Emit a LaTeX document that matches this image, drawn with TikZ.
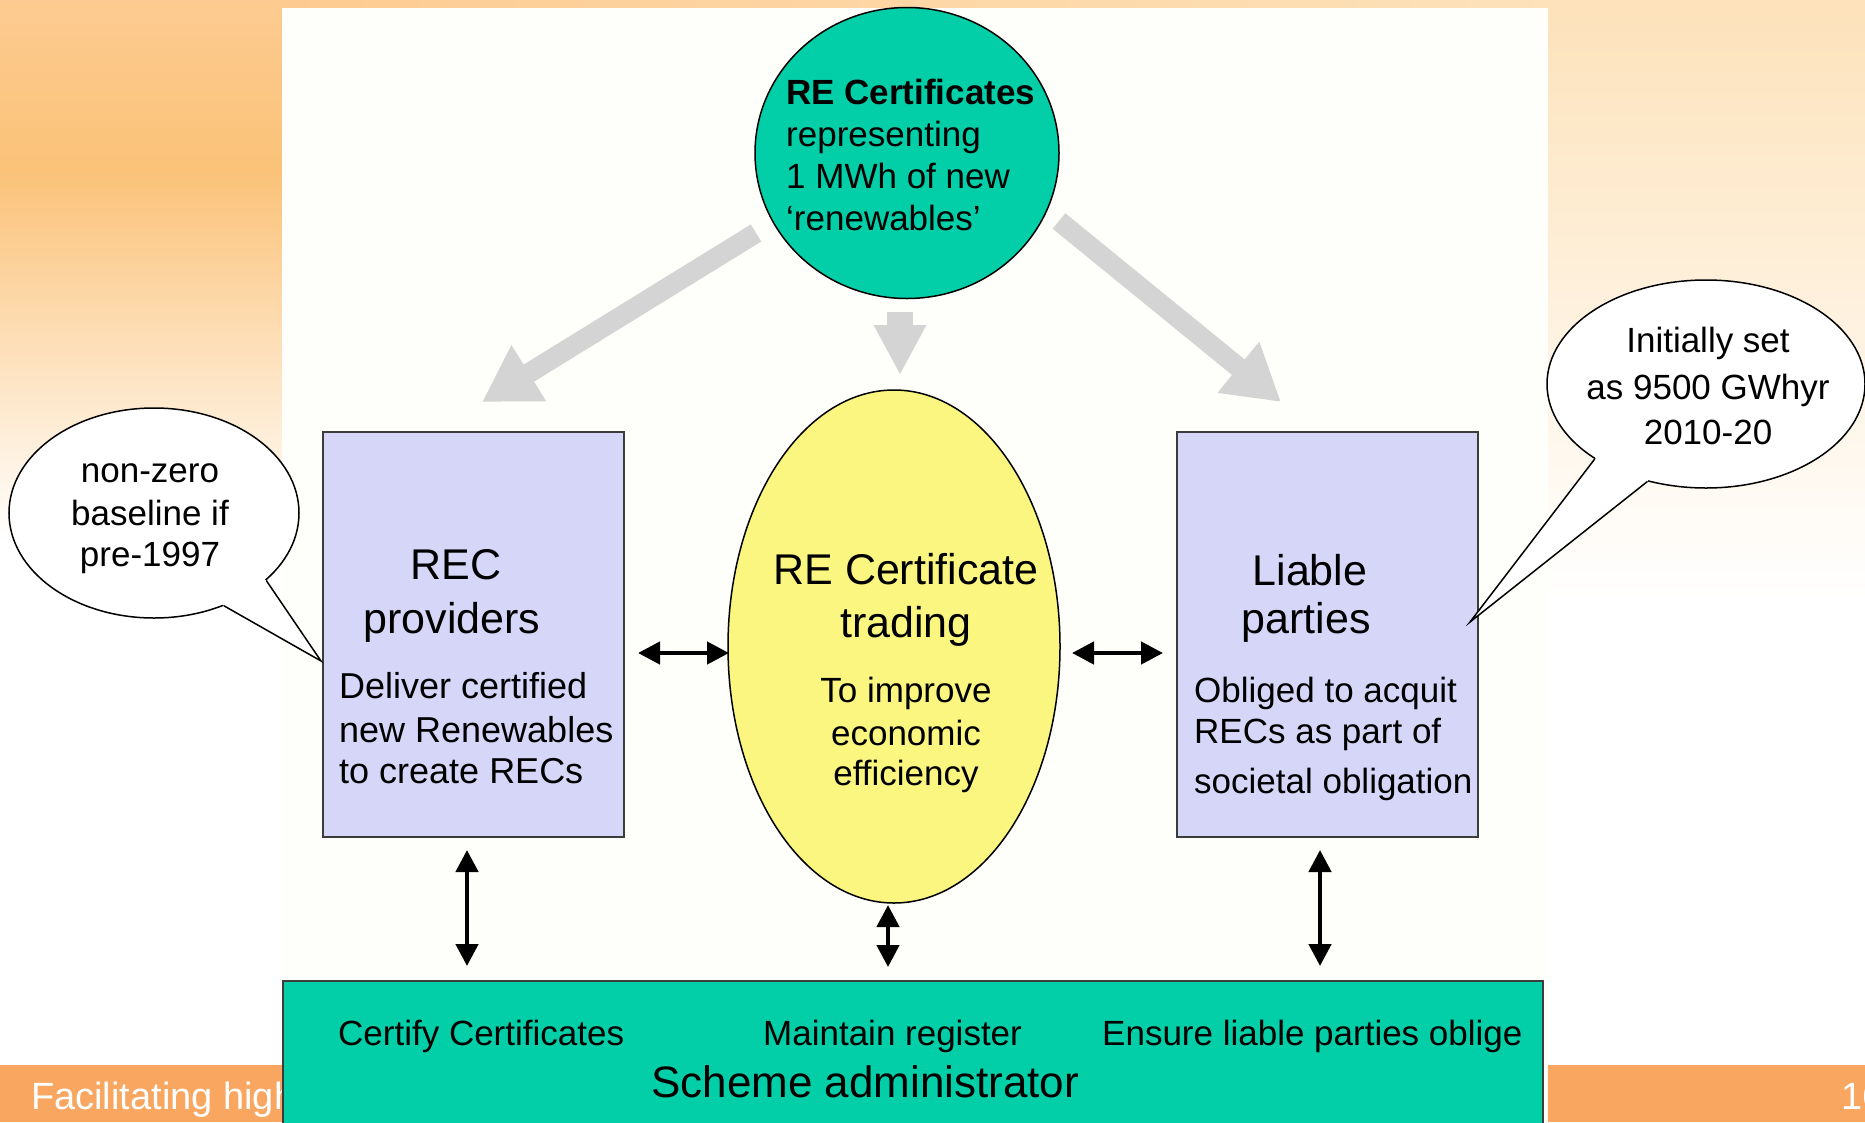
\documentclass[tikz,border=0pt]{standalone}
\usepackage{fontspec}
\setmainfont{Liberation Sans}
\usetikzlibrary{arrows.meta,shapes.geometric,calc}
\newcommand\myfs[1]{\fontsize{#1pt}{#1pt}\selectfont}
\definecolor{tealc}{RGB}{2,207,168}
\definecolor{yelc}{RGB}{250,246,128}
\definecolor{lavc}{RGB}{214,214,249}
\definecolor{garrow}{RGB}{212,212,212}
\definecolor{barc}{RGB}{248,166,96}
\definecolor{panelc}{RGB}{254,254,250}
\definecolor{orA}{RGB}{253,203,145}
\definecolor{orB}{RGB}{251,194,120}
\definecolor{orC}{RGB}{253,226,186}
\definecolor{edgec}{RGB}{60,60,60}
\tikzset{
  tl/.style={inner sep=0pt, anchor=base west},
  tc/.style={inner sep=0pt, anchor=base},
  graya/.style={draw=garrow, line width=20pt, -{Triangle[width=62pt,length=55pt]}},
  blka/.style={line width=4.5pt, {Triangle[width=22pt,length=22pt]}-{Triangle[width=22pt,length=22pt]}},
  lbox/.style={rectangle, draw=edgec, line width=2.5pt, fill=lavc, minimum width=301pt, minimum height=405pt, inner sep=0pt},
  bubble/.style={ellipse, draw, line width=1.5pt, fill=white, inner sep=0pt},
  tail/.style={line width=1.5pt, line join=miter}
}
\begin{document}
\begin{tikzpicture}[x=1pt,y=-1pt]
\useasboundingbox (0,0) rectangle (1865,1122);
\clip (0,0) rectangle (1865,1122);
% background
\fill[white] (0,0) rectangle (1865,1122);
\shade[top color=orA, bottom color=orB] (0,0) rectangle (282,170);
\shade[top color=orB, bottom color=white] (0,170) rectangle (282,540);
\shade[top color=orC, bottom color=white] (1548,0) rectangle (1865,600);
\shade[left color=orA, right color=orC] (282,0) rectangle (1548,8);
\fill[barc] (0,1065) rectangle (1865,1122);
\node[tl, text=white, font=\myfs{38}] (foot) at (31,1109) {Facilitating high};
\node[tl, text=white, font=\myfs{38}] (pnum) at (1841,1109) {16};
\fill[panelc] (282,8) rectangle (1548,1122);

% top circle
\node[ellipse, draw, line width=1.5pt, fill=tealc, minimum width=304pt, minimum height=291pt, inner sep=0pt] (cert) at (907,153) {};
\node[tl, font=\myfs{35}\bfseries] (c1) at (786,104) {RE Certificates};
\node[tl, font=\myfs{35}] (c2) at (786,146) {representing};
\node[tl, font=\myfs{35}] (c3) at (786,188) {1 MWh of new};
\node[tl, font=\myfs{35}] (c4) at (786,230) {‘renewables’};

% gray arrows
\coordinate (gl1) at (756,233);
\coordinate (gl2) at (482,402);
\coordinate (gm1) at (900,312);
\coordinate (gm2) at (900,375);
\coordinate (gr1) at (1059,221);
\coordinate (gr2) at (1281,402);
\draw[graya] (gl1) -- (gl2);
\draw[graya] (gr1) -- (gr2);
\draw[draw=garrow, line width=26pt, -{Triangle[width=49pt,length=50pt]}] (gm1) -- (gm2);

% boxes
\node[lbox] (rec) at (473.5,634.5) {};
\node[lbox] (liab) at (1327.5,634.5) {};
\node[tc, font=\myfs{43}] (r1) at (456,579) {REC};
\node[tc, font=\myfs{43}] (r2) at (452,633) {providers};
\node[tl, font=\myfs{36}] (r3) at (339,698) {Deliver certified};
\node[tl, font=\myfs{36}] (r4) at (339,742) {new Renewables};
\node[tl, font=\myfs{36}] (r5) at (339,783) {to create RECs};
\node[tc, font=\myfs{43}] (l1) at (1310,585) {Liable};
\node[tc, font=\myfs{43}] (l2) at (1306,633) {parties};
\node[tl, font=\myfs{35}] (l3) at (1194,702) {Obliged to acquit};
\node[tl, font=\myfs{35}] (l4) at (1194,743) {RECs as part of};
\node[tl, font=\myfs{35}] (l5) at (1194,793) {societal obligation};

% trading ellipse
\node[ellipse, draw, line width=1.5pt, fill=yelc, minimum width=332pt, minimum height=513pt, inner sep=0pt] (trade) at (894,646.5) {};
\node[tc, font=\myfs{43}] (t1) at (906,584) {RE Certificate};
\node[tc, font=\myfs{43}] (t2) at (906,637) {trading};
\node[tc, font=\myfs{35}] (t3) at (906,702) {To improve};
\node[tc, font=\myfs{35}] (t4) at (906,745) {economic};
\node[tc, font=\myfs{35}] (t5) at (906,785) {efficiency};

% black double arrows
\coordinate (ha1) at (638,653);
\coordinate (ha2) at (729,653);
\coordinate (hb1) at (1072,653);
\coordinate (hb2) at (1163,653);
\coordinate (va1) at (467,850);
\coordinate (va2) at (467,966);
\coordinate (vm1) at (888,905);
\coordinate (vm2) at (888,967);
\coordinate (vb1) at (1320,850);
\coordinate (vb2) at (1320,966);
\draw[blka] (ha1) -- (ha2);
\draw[blka] (hb1) -- (hb2);
\draw[blka] (va1) -- (va2);
\draw[blka] (vm1) -- (vm2);
\draw[blka] (vb1) -- (vb2);

% scheme administrator
\node[rectangle, draw=edgec, line width=2pt, fill=tealc, minimum width=1260pt, minimum height=170pt, inner sep=0pt] (admin) at (913,1066) {};
\node[tl, font=\myfs{35}] (a1) at (338,1045) {Certify Certificates};
\node[tl, font=\myfs{35}] (a2) at (763,1045) {Maintain register};
\node[tl, font=\myfs{35}] (a3) at (1102,1045) {Ensure liable parties oblige};
\node[tl, font=\myfs{44}] (a4) at (651,1097) {Scheme administrator};

% callouts
\node[bubble, minimum width=290pt, minimum height=210pt] (cl) at (154,513) {};
\coordinate (cltip) at (321,661);
\fill[white] (cl.-31) -- (cltip) -- (cl.-53) -- (cl.center) -- cycle;
\draw[tail] (cl.-31) -- (cltip) -- (cl.-53);
\node[tc, font=\myfs{35}] (cl1) at (150,482) {non-zero};
\node[tc, font=\myfs{35}] (cl2) at (150,525) {baseline if};
\node[tc, font=\myfs{35}] (cl3) at (150,566) {pre-1997};

\node[bubble, minimum width=318pt, minimum height=208pt] (cr) at (1706,384) {};
\coordinate (crtip) at (1470,622);
\fill[white] (cr.214) -- (crtip) -- (cr.239) -- (cr.center) -- cycle;
\draw[tail] (cr.214) -- (crtip) -- (cr.239);
\node[tc, font=\myfs{35}] (cr1) at (1708,352) {Initially set};
\node[tc, font=\myfs{35}] (cr2) at (1708,399) {as 9500 GWhyr};
\node[tc, font=\myfs{35}] (cr3) at (1708,444) {2010-20};
\end{tikzpicture}
\end{document}
